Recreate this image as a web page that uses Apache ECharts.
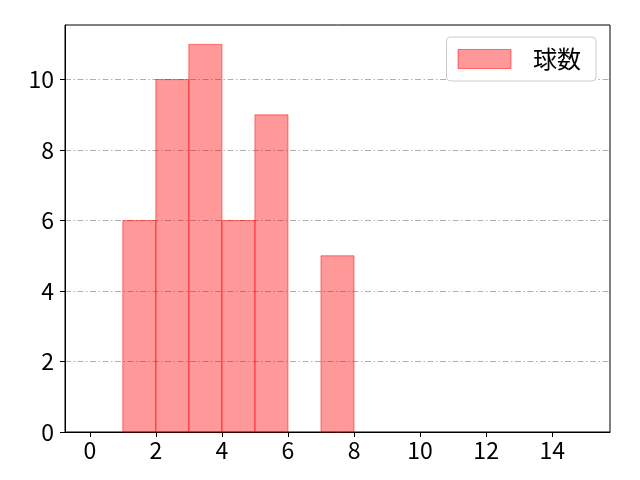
<!DOCTYPE html>
<html><head><meta charset="utf-8">
<script src="https://cdn.jsdelivr.net/npm/echarts@6/dist/echarts.min.js"></script>
<style>html,body{margin:0;padding:0;background:#fff}#c{width:640px;height:480px}</style>
</head><body><div id="c"></div>
<script>
const binStarts = [0,1,2,3,4,5,6,7,8,9,10,11,12,13,14];
const counts = [0,6,10,11,6,9,0,5,0,0,0,0,0,0,0];
const xTicks = [0,2,4,6,8,10,12,14];
const yTicks = [0,2,4,6,8,10];
const seriesName = '球数';
const font = 'Noto Sans CJK JP';
const chart = echarts.init(document.getElementById('c'), null, {renderer:'canvas'});
const data = binStarts.map((s,i)=>[s, s+1, counts[i]]);
chart.setOption({
  animation:false,
  grid:{left:65,right:30,top:25,bottom:48,show:true,borderColor:'#000',borderWidth:1,backgroundColor:'transparent'},
  legend:{show:true,right:44,top:37,orient:'vertical',padding:[10,15,10,11],
    backgroundColor:'#fff',borderColor:'#ccc',borderWidth:1,borderRadius:4,
    itemWidth:53,itemHeight:19,itemGap:10,
    textStyle:{fontFamily:font,fontSize:24,color:'#000',padding:[0,0,0,17]},
    data:[{name:seriesName,icon:'rect',itemStyle:{color:'rgba(255,0,0,0.4)',borderColor:'rgba(255,0,0,0.5)',borderWidth:1}}]},
  xAxis:{type:'value',min:-0.75,max:15.75,
    axisLine:{show:true,onZero:false,lineStyle:{color:'#000'}},
    axisTick:{show:true,length:5,inside:false,customValues:xTicks,lineStyle:{color:'#000'}},
    axisLabel:{customValues:xTicks,fontFamily:font,fontSize:23,color:'#000',margin:7},
    splitLine:{show:false}},
  yAxis:{type:'value',min:0,max:11.55,
    axisLine:{show:true,onZero:false,lineStyle:{color:'#000'}},
    axisTick:{show:true,length:5,customValues:yTicks,lineStyle:{color:'#000'}},
    axisLabel:{customValues:yTicks,fontFamily:font,fontSize:23,color:'#000',margin:11},
    splitLine:{show:true,customValues:yTicks,lineStyle:{color:'#b0b0b0',width:1,type:[6,2.5,1.5,2.5]}}},
  series:[{type:'custom',name:seriesName,data:data,
    renderItem:function(params,api){
      const v=api.value(2); if(!v) return null;
      const p0=api.coord([api.value(0),0]);
      const p1=api.coord([api.value(1),v]);
      return {type:'rect',shape:{x:p0[0],y:p1[1],width:p1[0]-p0[0],height:p0[1]-p1[1]},
        style:{fill:'rgba(255,0,0,0.4)',stroke:'rgba(255,0,0,0.5)',lineWidth:1}};
    },
    itemStyle:{color:'rgba(255,0,0,0.4)'},
    encode:{x:[0,1],y:2}}]
});
</script></body></html>
